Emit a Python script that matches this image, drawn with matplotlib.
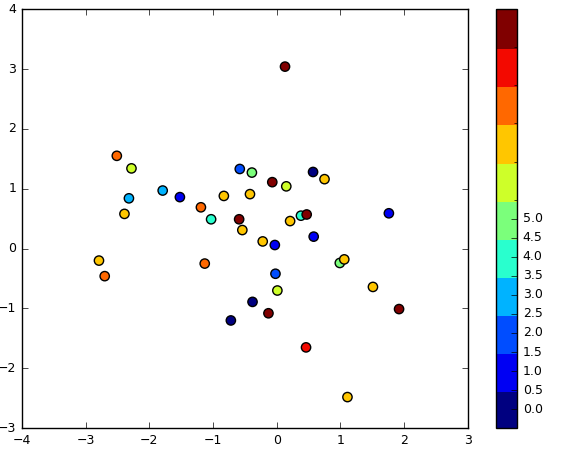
import numpy as np
import matplotlib
matplotlib.use('Agg')
import matplotlib.pyplot as plt
import matplotlib.colors as mcolors

# data
x = [0.13, -2.51, -2.28, -2.32, -2.39, -1.79, -1.52, -1.19, -1.03, -0.83,
     -0.58, -0.39, -0.42, -0.59, -0.54, -0.22, -0.07, 0.15, 0.57, 0.75,
     0.21, 0.38, 0.47, 0.58, -0.03, 1.76, -2.79, -2.70, -1.13, -0.02,
     0.99, 1.06, 0.01, -0.38, -0.72, -0.13, 0.46, 1.51, 1.92, 1.11]
y = [3.04, 1.55, 1.34, 0.84, 0.58, 0.97, 0.86, 0.69, 0.49, 0.88,
     1.33, 1.27, 0.91, 0.49, 0.31, 0.12, 1.11, 1.04, 1.28, 1.16,
     0.46, 0.55, 0.57, 0.20, 0.06, 0.59, -0.20, -0.46, -0.25, -0.42,
     -0.24, -0.18, -0.70, -0.89, -1.20, -1.08, -1.65, -0.64, -1.01, -2.48]
tag = [10, 8, 6, 3, 7, 3, 1, 8, 4, 7,
       2, 5, 7, 10, 7, 7, 10, 6, 0, 7,
       7, 4, 10, 1, 1, 1, 7, 8, 8, 2,
       5, 7, 6, 0, 0, 10, 9, 7, 10, 7]
cb_ticks = [0.0, 0.5, 1.0, 1.5, 2.0, 2.5, 3.0, 3.5, 4.0, 4.5, 5.0]

plt.style.use('classic')
plt.rcParams['font.size'] = 9
plt.rcParams['ytick.major.pad'] = 4
plt.rcParams['xtick.major.pad'] = 4

fig = plt.figure(figsize=(5.61, 4.57), dpi=100, facecolor='white')
ax = fig.add_axes([0.039, 0.063, 0.795, 0.917])
cax = fig.add_axes([0.884, 0.063, 0.038, 0.917])

cmap = plt.get_cmap('jet', 11)
bounds = np.arange(-0.5, 11, 1.0)
norm = mcolors.BoundaryNorm(bounds, cmap.N)

sc = ax.scatter(x, y, c=tag, s=45, cmap=cmap, norm=norm,
                edgecolors='k', linewidths=1.0)
ax.set_xlim(-4, 3)
ax.set_ylim(-3, 4)

cb = fig.colorbar(sc, cax=cax, ticks=cb_ticks, spacing='uniform')
cb.ax.set_yticklabels(['%.1f' % t for t in cb_ticks])
cb.solids.set_edgecolor('face')

fig.savefig('out.png', dpi=100, facecolor='white')
